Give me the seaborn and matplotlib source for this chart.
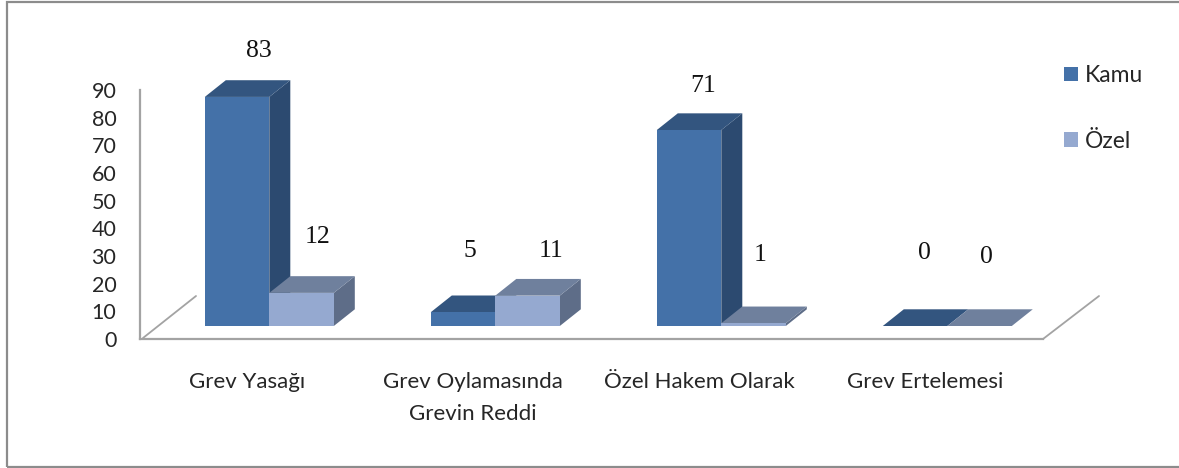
import matplotlib
matplotlib.use("Agg")
import matplotlib.pyplot as plt
from matplotlib.lines import Line2D
from matplotlib.patches import Patch, Polygon, Rectangle
import pandas as pd
import seaborn as sns

categories = ["Grev Yasağı", "Grev Oylamasında\nGrevin Reddi", "Özel Hakem Olarak", "Grev Ertelemesi"]
kamu = [83, 5, 71, 0]
ozel = [12, 11, 1, 0]
series_names = ["Kamu", "Özel"]

W, H = 1179, 468
front = ["#4471A8", "#95A9D0"]
top = ["#33557F", "#6F809D"]
side = ["#2C4A70", "#5E6D88"]
grey = "#A3A3A3"
# pixel offsets of the value labels from the bar's front top centre
label_off = {"Kamu": [(22, 46), (7, 61), (14, 44), (9, 73)],
             "Özel": [(16, 56), (23, 45), (7, 68), (7, 69)]}

sns.set_theme(style="white")
plt.rcParams["font.family"] = ["Lato", "DejaVu Sans"]

fig = plt.figure(figsize=(W / 100, H / 100), dpi=100, facecolor="white")
L, R, T, B = 140, 1043, 90, 339
ax = fig.add_axes([L / W, 1 - B / H, (R - L) / W, (B - T) / H])

df = pd.DataFrame({
    "cat": categories * 2,
    "val": kamu + ozel,
    "series": [series_names[0]] * 4 + [series_names[1]] * 4,
})
sns.barplot(data=df, x="cat", y="val", hue="series", hue_order=series_names,
            palette=front, width=129 / 226, gap=0, saturation=1, linewidth=0,
            legend=False, ax=ax)

# scales: categories 226 px apart, values 2.76 px per unit, base 13 px above the floor line
pxx, pxy = 226.0, 2.76
x0 = 269.3
ax.set_xlim((L - x0) / pxx, (R - x0) / pxx)
ax.set_ylim(-(B - 326) / pxy, (326 - T) / pxy)
dx, dy = 21 / pxx, 16.7 / pxy

containers = ax.containers
for s, cont in enumerate(containers):
    for rect, val, off in zip(cont.patches, (kamu, ozel)[s], label_off[series_names[s]]):
        rect.set_zorder(5)
        x1, x2 = rect.get_x(), rect.get_x() + rect.get_width()
        ax.add_patch(Polygon([(x1, val), (x2, val), (x2 + dx, val + dy), (x1 + dx, val + dy)],
                             fc=top[s], ec="none", zorder=1 + 2 * s + 0.5, clip_on=False))
        ax.add_patch(Polygon([(x2, 0), (x2, val), (x2 + dx, val + dy), (x2 + dx, dy)],
                             fc=side[s], ec="none", zorder=1 + 2 * s, clip_on=False))
        ax.text((x1 + x2) / 2 + off[0] / pxx, val + off[1] / pxy, str(val),
                family="Liberation Serif", fontsize=18.5, color="#111111",
                ha="center", va="center", zorder=6, clip_on=False)

ax.set_xlabel("")
ax.set_ylabel("")
ax.set_yticks([])
ax.set_xticks([i - 22 / pxx for i in range(4)])
ax.set_xticklabels(categories, fontsize=16, color="#262626")
for lab in ax.get_xticklabels():
    lab.set_linespacing(1.72)
ax.tick_params(axis="x", length=0, pad=24)
for sp in ["top", "right"]:
    ax.spines[sp].set_visible(False)
for sp in ["left", "bottom"]:
    ax.spines[sp].set_color(grey)
    ax.spines[sp].set_linewidth(1.6)
ax.patch.set_alpha(0)

axv = ax.twinx()
axv.set_ylim(0, 90)
axv.set_yticks(range(0, 91, 10))
axv.yaxis.tick_left()
axv.tick_params(axis="y", length=0, pad=17, labelsize=15.5, labelcolor="#262626")
axv.grid(False)
for sp in axv.spines.values():
    sp.set_visible(False)
axv.patch.set_alpha(0)
axv.set_zorder(-1)

def px(x, y):
    return x / W, 1 - y / H

for a, b in [((143, 338), (196, 296)), ((1043, 339), (1099, 296))]:
    p, q = px(*a), px(*b)
    fig.add_artist(Line2D([p[0], q[0]], [p[1], q[1]], color=grey, lw=1.3, transform=fig.transFigure))

fig.add_artist(Rectangle(px(7, 467), (W + 20 - 7) / W, 465 / H, fill=False, ec="#8C8C8C", lw=1.6,
                         transform=fig.transFigure))

handles = [Patch(fc=front[i], ec="none", label=series_names[i]) for i in range(2)]
fig.legend(handles=handles, loc="upper left", bbox_to_anchor=px(1064, 65), frameon=False,
           fontsize=16.5, labelspacing=1.95, handlelength=0.61, handleheight=0.61,
           handletextpad=0.3, labelcolor="#262626", borderpad=0, borderaxespad=0)

fig.savefig("out.png", dpi=100)
